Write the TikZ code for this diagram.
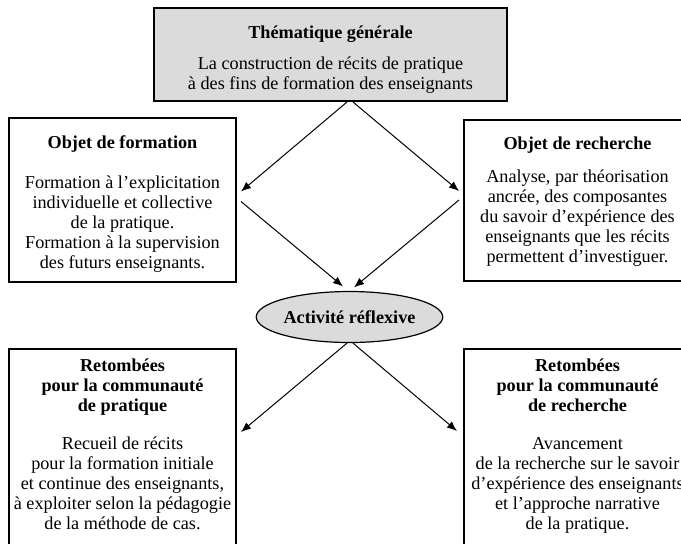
\documentclass[tikz,border=0pt]{standalone}
\usepackage{fontspec}
\setmainfont{Liberation Serif}
\usetikzlibrary{shapes.geometric,arrows.meta}

\newcommand{\haut}[1]{\rule{0pt}{#1}}
\newcommand{\bas}[1]{\rule[-#1]{0pt}{#1}}

\tikzset{
  cadre/.style={draw=black, line width=1pt, fill=white, anchor=north, align=center, inner xsep=0pt, inner ysep=0pt},
  fleche/.style={-{Latex[length=5pt,width=4pt]}, line width=0.5pt},
}

\begin{document}
\begin{tikzpicture}[x=0.5pt, y=-0.5pt, font=\fontsize{9.1}{10}\selectfont]
\useasboundingbox (0,0) rectangle (681,543);
\clip (0,0) rectangle (681,543);

\node[cadre, fill=black!14, minimum width=176.5pt] (theme) at (330.5,7) {\haut{15pt}\textbf{Thématique générale}\\[5.5pt] La construction de récits de pratique\\ à des fins de formation des enseignants\bas{6pt}};
\node[cadre, minimum width=113.5pt] (formation) at (122.5,117) {\haut{15pt}\textbf{Objet de formation}\\[10pt] Formation à l’explicitation\\ individuelle et collective\\ de la pratique.\\ Formation à la supervision\\ des futurs enseignants.\bas{7pt}};
\node[cadre, minimum width=113.5pt] (recherche) at (577.5,119) {\haut{14.5pt}\textbf{Objet de recherche}\\[6.5pt] Analyse, par théorisation\\ ancrée, des composantes\\ du savoir d’expérience des\\ enseignants que les récits\\ permettent d’investiguer.\bas{9.5pt}};
\node[draw, ellipse, fill=black!14, line width=0.6pt, minimum width=90.5pt, minimum height=25.5pt, inner sep=0pt] (activite) at (349.5,317) {\textbf{Activité réflexive}};
\node[cadre, minimum width=113.5pt] (retpratique) at (122.5,348) {\haut{11pt}\textbf{Retombées}\\ \textbf{pour la communauté}\\ \textbf{de pratique}\\[9pt] Recueil de récits\\ pour la formation initiale\\ et continue des enseignants,\\ à exploiter selon la pédagogie\\ de la méthode de cas.\bas{20pt}};
\node[cadre, minimum width=113.5pt] (retrecherche) at (577.5,348) {\haut{11pt}\textbf{Retombées}\\ \textbf{pour la communauté}\\ \textbf{de recherche}\\[9pt] Avancement\\ de la recherche sur le savoir\\ d’expérience des enseignants\\ et l’approche narrative\\ de la pratique.\bas{20pt}};

%Fleches
\draw[fleche] ([xshift=8.25pt]theme.south) -- ([xshift=2pt,yshift=4.25pt]formation.east);
\draw[fleche] ([xshift=11.25pt]theme.south) -- ([xshift=-2pt,yshift=4.75pt]recherche.west);
\draw[fleche] ([xshift=2pt,yshift=-0.75pt]formation.east) -- ([xshift=-3.25pt,yshift=2.25pt]activite.north);
\draw[fleche] ([xshift=-2pt,yshift=0.25pt]recherche.west) -- ([xshift=2.25pt,yshift=1.75pt]activite.north);
\draw[fleche] ([xshift=-1.25pt]activite.south) -- ([xshift=2pt,yshift=-42pt]retpratique.north east);
\draw[fleche] ([xshift=1.75pt]activite.south) -- ([xshift=-3pt,yshift=-41.5pt]retrecherche.north west);
\end{tikzpicture}
\end{document}
